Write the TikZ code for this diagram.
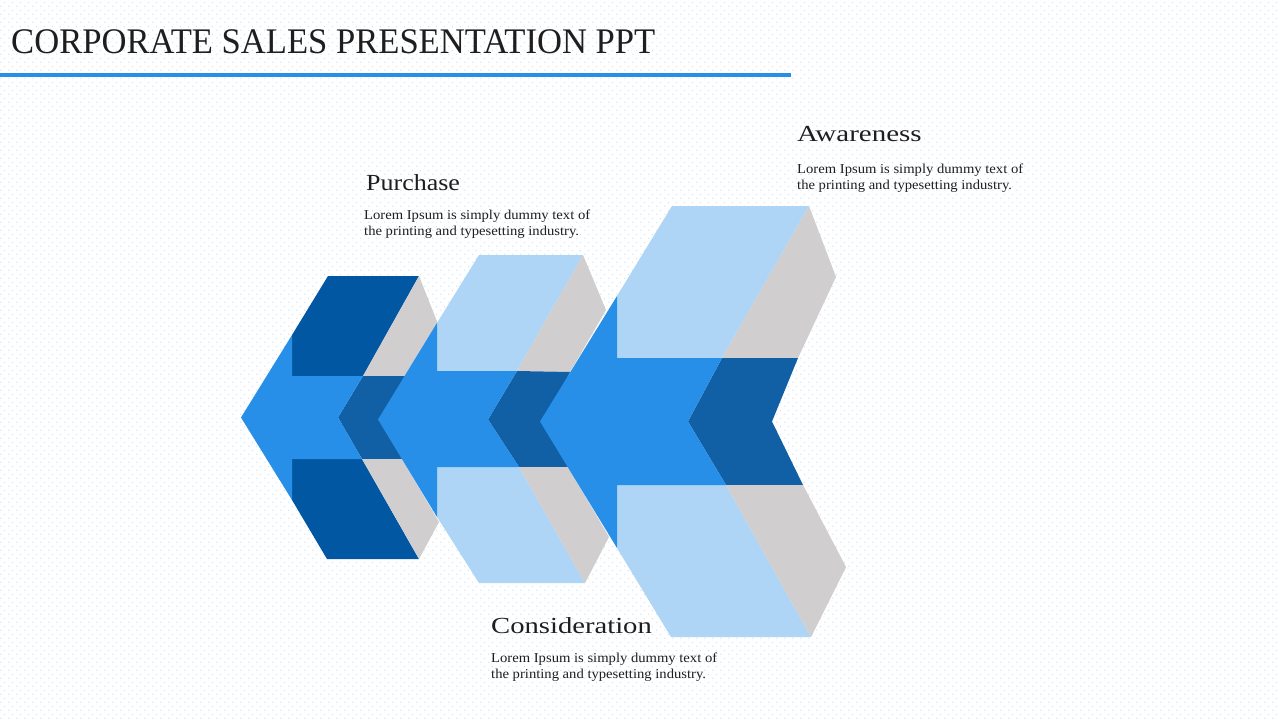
\documentclass[tikz,border=0pt]{standalone}
\usepackage{fontspec}
\setmainfont{Liberation Serif}
\usetikzlibrary{patterns.meta}
\definecolor{darkface}{RGB}{2,87,163}
\definecolor{midchev}{RGB}{17,96,166}
\definecolor{arrowblue}{RGB}{40,143,232}
\definecolor{lightface}{RGB}{174,213,245}
\definecolor{grayface}{RGB}{208,206,207}
\definecolor{dotblue}{RGB}{176,216,246}
\definecolor{txt}{RGB}{30,30,30}
\pgfdeclarepattern{
  name=bgdots,
  type=uncolored,
  bottom left={\pgfpoint{0pt}{0pt}},
  top right={\pgfpoint{8pt}{8pt}},
  tile size={\pgfpoint{8pt}{8pt}},
  code={\pgfpathcircle{\pgfpoint{2pt}{2pt}}{0.6pt}\pgfpathcircle{\pgfpoint{6pt}{6pt}}{0.6pt}\pgfusepath{fill}}
}
\newcommand\hdtext[2][1.18]{\scalebox{#1}[1]{#2}}
\newcommand\bodytext[2]{\scalebox{1.076}[1]{\begin{tabular}[t]{@{}l@{}}#1\\#2\end{tabular}}}
\begin{document}
\begin{tikzpicture}[x=1pt,y=-1pt,
  darkf/.style={fill=darkface},
  midf/.style={fill=midchev},
  arrf/.style={fill=arrowblue},
  lightf/.style={fill=lightface},
  grayf/.style={fill=grayface},
  heading/.style={anchor=base west,inner sep=0pt,text=txt,font=\fontsize{23}{28}\selectfont},
  body/.style={anchor=base west,inner sep=0pt,text=txt,font=\fontsize{13.6}{16}\selectfont},
  titletext/.style={anchor=base west,inner sep=0pt,text=txt,font=\fontsize{36}{40}\selectfont},
  rule/.style={draw=arrowblue,line width=4pt}]
\useasboundingbox (0,0) rectangle (1280,720);
\fill[white] (0,0) rectangle (1280,720);
\fill[pattern=bgdots,pattern color=dotblue] (0,0) rectangle (1280,720);

% title
\node[titletext] (title) at (11,53) {\scalebox{0.961}[1]{CORPORATE SALES PRESENTATION PPT}};
\coordinate (ruleL) at (0,75);
\coordinate (ruleR) at (791,75);
\draw[rule] (ruleL) -- (ruleR);

% group 1 (dark)
\fill[darkf] (328,276) -- (419,276) -- (363,376) -- (292,376) -- (292,335) -- cycle;
\fill[grayf] (419,276) -- (438,324) -- (405,376) -- (363,376) -- cycle;
\fill[midf] (363,376) -- (405,376) -- (384,418) -- (402,459) -- (362,459) -- (338,417.5) -- cycle;
\fill[darkf] (292,459) -- (362,459) -- (419,559) -- (327,559) -- (292,500) -- cycle;
\fill[grayf] (362,459) -- (402,459) -- (439,522) -- (419,559) -- cycle;
\fill[arrf] (241,417.5) -- (292,335) -- (292,376) -- (363,376) -- (338,417.5) -- (362,459) -- (292,459) -- (292,500) -- cycle;

% group 2 (light)
\fill[lightf] (479,255) -- (583,255) -- (517,371) -- (437,371) -- (437,323) -- cycle;
\fill[grayf] (583,255) -- (606,310) -- (570,372) -- (517,371) -- cycle;
\fill[midf] (517,371) -- (570,372) -- (546,420) -- (568,467) -- (519,467) -- (488,419.5) -- cycle;
\fill[lightf] (437,467) -- (519,467) -- (585,583) -- (479,583) -- (437,517) -- cycle;
\fill[grayf] (519,467) -- (568,467) -- (609,537) -- (585,583) -- cycle;
\fill[arrf] (378,419.5) -- (437,323) -- (437,371) -- (517,371) -- (488,419.5) -- (519,467) -- (437,467) -- (437,517) -- cycle;

% group 3 (light, large)
\fill[lightf] (672,206) -- (809,206) -- (722,358) -- (617,358) -- (617,296) -- cycle;
\fill[grayf] (809,206) -- (836,277) -- (798,358) -- (722,358) -- cycle;
\fill[midf] (722,358) -- (798,358) -- (772,421.5) -- (803,485) -- (726,485) -- (688,421.5) -- cycle;
\fill[lightf] (617,485) -- (726,485) -- (811,637) -- (671,637) -- (617,548) -- cycle;
\fill[grayf] (726,485) -- (803,485) -- (846,567) -- (811,637) -- cycle;
\fill[arrf] (540,421.5) -- (617,296) -- (617,358) -- (722,358) -- (688,421.5) -- (726,485) -- (617,485) -- (617,548) -- cycle;

% texts
\node[heading] (purchaseH) at (366,190) {\hdtext[1.13]{Purchase}};
\node[body] (purchaseB) at (364,219) {\bodytext{Lorem Ipsum is simply dummy text of}{the printing and typesetting industry.}};
\node[heading] (awareH) at (797,141) {\hdtext[1.26]{Awareness}};
\node[body] (awareB) at (797,173) {\bodytext{Lorem Ipsum is simply dummy text of}{the printing and typesetting industry.}};
\node[heading] (considH) at (491,633) {\hdtext[1.245]{Consideration}};
\node[body] (considB) at (491,662) {\bodytext{Lorem Ipsum is simply dummy text of}{the printing and typesetting industry.}};
\end{tikzpicture}
\end{document}
